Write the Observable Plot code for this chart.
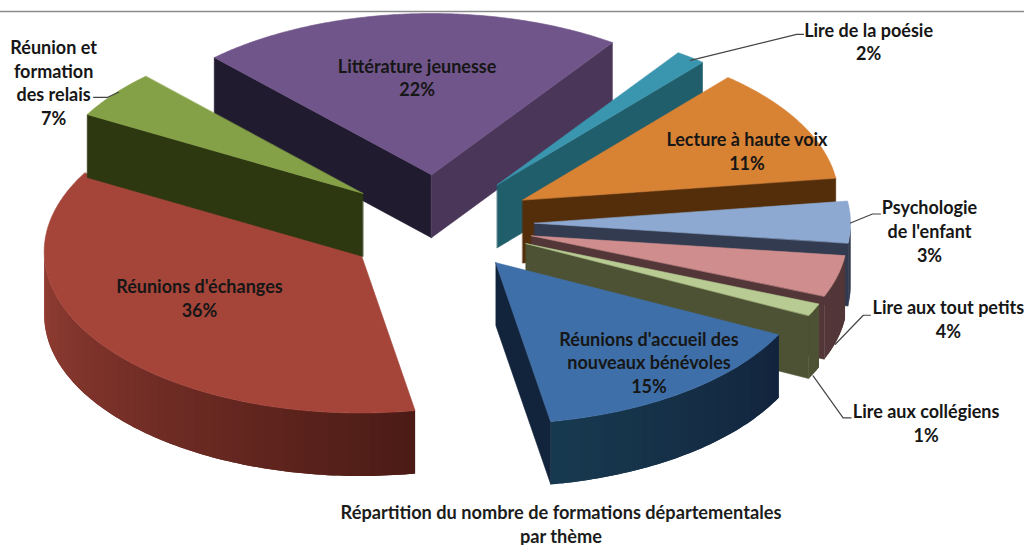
<!DOCTYPE html>
<html lang="fr">
<head>
<meta charset="utf-8">
<script src="https://cdn.jsdelivr.net/npm/d3@7"></script>
<script src="https://cdn.jsdelivr.net/npm/@observablehq/plot@0.6"></script>
<style>
html,body{margin:0;padding:0;background:#fff;overflow:hidden}
#chart svg{display:block}
#caption{width:1024px;box-sizing:border-box;padding-left:98px;text-align:center;font:bold 18.2px/24px Lato,sans-serif;color:#1c1c1c;white-space:nowrap}
</style>
</head>
<body>
<div id="chart"></div>
<div id="caption">Répartition du nombre de formations départementales<br>par thème</div>
<script>
// Data
const labels = ["Réunions d'échanges", "Réunion et\nformation\ndes relais", "Littérature jeunesse", "Lire de la poésie", "Lecture à haute voix", "Psychologie\nde l'enfant", "Lire aux tout petits", "Lire aux collégiens", "Réunions d'accueil des\nnouveaux bénévoles"];
const percents = [36, 7, 22, 2, 11, 3, 4, 1, 15];
// Width of each drawn slice (share of the full turn)
const drawnShares = [35.9, 4.8, 21.75, 1.55, 11.55, 4.15, 4.15, 1.25, 14.85];

// Colours
const topColors = ["#A5453A", "#85A147", "#70558A", "#3A96AE", "#D88234", "#8DA9D1", "#CF8E8D", "#B7CB92", "#3F6FA8"];
const startWallColors = ["#4c1b16", "#2E3810", "#211B30", "#215E6B", "#542E0A", "#333B50", "#523638", "#4C5233", "#12233C"];
const endWallColors = ["#4c1b16", "#2E3810", "#4A3659", "#215E6B", "#542E0A", "#333B50", "#523638", "#4C5233", "#12233C"];
const rimColorsFrom = ["#4a1a15", "#2E3810", "#4A3659", "#215E6B", "#542E0A", "#333B50", "#523638", "#4C5233", "#12233C"];
const rimColorsTo = ["#a8483c", "#2E3810", "#211B30", "#215E6B", "#542E0A", "#333B50", "#523638", "#4C5233", "#17394F"];

// Layout of the exploded tilted pie
const pie = {cx: 438, cy: 223, radius: 316, explode: 96, tilt: 0.51, depth: 63, startAngle: 170};
const drawOrder = [2, 3, 4, 5, 6, 7, 8, 0, 1];
const labelShift = [[97,-47],[-60,-11.5],[9,64],[178,-15.5],[-53,29],[79,9.5],[111,43],[112,113.5],[-36,-29]];
const leaderShift = [null, [[-20,3],[-6,3],[5,-2]], null, [[0,3],[106,-23],[113,-23]], null, [[0,1],[22,-8],[30,-8]], [[-2,68],[26,39],[33,39]], [[-1,66],[29,108],[37,108]], null];

const rad = d => d * Math.PI / 180;
const total = d3.sum(drawnShares);
let cursor = pie.startAngle;
const slices = labels.map((label, i) => {
  const a0 = cursor, a1 = cursor + drawnShares[i] / total * 360;
  cursor = a1;
  const mid = (a0 + a1) / 2;
  const ax = pie.cx + pie.explode * Math.sin(rad(mid));
  const ay = pie.cy - pie.explode * pie.tilt * Math.cos(rad(mid));
  const rim = (a, z = 0) => ({x: ax + pie.radius * Math.sin(rad(a)), y: ay - pie.radius * pie.tilt * Math.cos(rad(a)) + z});
  return {i, label, a0, a1, mid, ax, ay, rim, anchor: rim(mid)};
});

let faceId = 0;
const toRows = (points, fill) => { const id = faceId++; return points.map(p => ({id, x: p.x, y: p.y, fill})); };
const sliceMarks = [];
for (const k of drawOrder) {
  const s = slices[k];
  const h = pie.depth;
  const apex = {x: s.ax, y: s.ay};
  const apexLow = {x: s.ax, y: s.ay + h};
  const walls = [], rimBands = [];
  if (Math.sin(rad(s.a0)) < 0) walls.push(...toRows([apex, s.rim(s.a0), s.rim(s.a0, h), apexLow], startWallColors[k]));
  if (Math.sin(rad(s.a1)) > 0) walls.push(...toRows([apex, s.rim(s.a1), s.rim(s.a1, h), apexLow], endWallColors[k]));
  const mix = d3.interpolateRgb(rimColorsFrom[k], rimColorsTo[k]);
  const bands = Math.max(1, Math.ceil((s.a1 - s.a0) / 2));
  const bandWidth = (s.a1 - s.a0) / bands;
  for (let b = 0; b < bands; b++) {
    const u0 = Math.max(s.a0, s.a0 + bandWidth * (b - 1)), u1 = s.a0 + bandWidth * (b + 1);
    const up = [], down = [];
    for (let t = 0; t <= 4; t++) {
      const a = u0 + (u1 - u0) * t / 4;
      if (Math.cos(rad(a)) < 0.02) {
        up.push(s.rim(a));
        down.unshift(s.rim(a, h));
      }
    }
    if (up.length > 1) rimBands.push(...toRows([...up, ...down], mix((b + 0.5) / bands)));
  }
  const top = [apex];
  const steps = Math.ceil(s.a1 - s.a0) * 2;
  for (let t = 0; t <= steps; t++) top.push(s.rim(s.a0 + (s.a1 - s.a0) * t / steps));
  const topRows = toRows(top, topColors[k]);
  const face = {x: "x", y: "y", z: "id", fill: "fill", curve: "linear-closed"};
  const edged = {...face, stroke: "fill", strokeWidth: 0.6};
  sliceMarks.push(Plot.line(walls, edged), Plot.line(rimBands, face), Plot.line(topRows, edged));
}

const textRows = slices.map(s => ({
  x: s.anchor.x + labelShift[s.i][0],
  y: s.anchor.y + labelShift[s.i][1],
  text: `${s.label}\n${percents[s.i]}%`
}));
const leaderRows = slices.flatMap(s => (leaderShift[s.i] || []).map(o => ({
  id: s.i, x: s.anchor.x + o[0], y: s.anchor.y + o[1]
})));

const plot = Plot.plot({
  width: 1024, height: 500,
  margin: 0,
  x: {domain: [0, 1024], range: [0, 1024], axis: null},
  y: {domain: [0, 500], range: [0, 500], axis: null},
  color: {type: "identity"},
  marks: [
    Plot.ruleY([11], {stroke: "#8a8a8a", strokeWidth: 1.5}),
    ...sliceMarks,
    Plot.line(leaderRows, {x: "x", y: "y", z: "id", stroke: "#444", strokeWidth: 1.2}),
    Plot.text(textRows, {x: "x", y: "y", dy: -1, text: "text", fontFamily: "Lato", fontWeight: "bold", fontSize: 18, lineHeight: 1.32, fill: "#161616"})
  ]
});
document.getElementById("chart").append(plot);
</script>
</body>
</html>
